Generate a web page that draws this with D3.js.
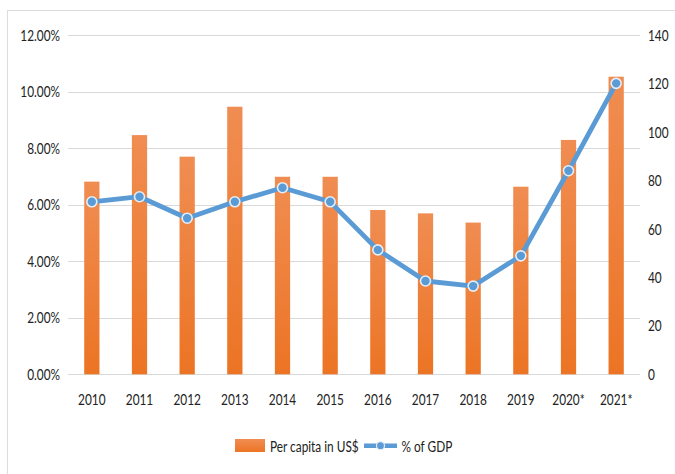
<!DOCTYPE html>
<html>
<head>
<meta charset="utf-8">
<script src="https://cdn.jsdelivr.net/npm/d3@7"></script>
<style>
  html, body { margin: 0; padding: 0; background: #fff; }
  svg { display: block; }
  text { font-family: Lato, "Open Sans", sans-serif; fill: #222; }
</style>
</head>
<body>
<svg id="chart" width="675" height="474"></svg>
<script>
// Years on the category axis
const years = ["2010", "2011", "2012", "2013", "2014", "2015", "2016", "2017", "2018", "2019", "2020*", "2021*"];
// Spending per capita in US$ (bars, right axis)
const perCapita = [79.5, 98.7, 89.8, 110.4, 81.5, 81.5, 67.8, 66.4, 62.6, 77.4, 96.7, 122.8];
// Spending as share of GDP (line, left axis)
const pctGDP = [0.0610, 0.0628, 0.0552, 0.0610, 0.0660, 0.0610, 0.0440, 0.0330, 0.0312, 0.0419, 0.0720, 0.1029];
// Axis ticks
const leftTicks = [0, 0.02, 0.04, 0.06, 0.08, 0.10, 0.12];
const rightTicks = [0, 20, 40, 60, 80, 100, 120, 140];
// Legend entries
const legendBar = "Per capita in US$";
const legendLine = "% of GDP";

const svg = d3.select("#chart");
const SX = 0.74;              // horizontal squeeze of all lettering
const FS = 16;                // font size
const textColor = "#222";
const plotL = 68, plotR = 640, plotT = 35, plotB = 374.3;

const barColorTop = "#f08d52", barColorBottom = "#ec7424";
const lineColor = "#5b9bd5";
const gridColor = "#d9d9d9";

const defs = svg.append("defs");
const grad = defs.append("linearGradient").attr("id", "barGrad")
  .attr("x1", 0).attr("y1", 0).attr("x2", 0).attr("y2", 1);
grad.append("stop").attr("offset", "0%").attr("stop-color", barColorTop);
grad.append("stop").attr("offset", "100%").attr("stop-color", barColorBottom);

// Chart frame
svg.append("rect")
  .attr("x", 7.5).attr("y", 10.5).attr("width", 700).attr("height", 500)
  .attr("fill", "#fff").attr("stroke", "#dcdcdc").attr("stroke-width", 1);

const x = d3.scaleBand().domain(years).range([plotL, plotR])
  .paddingInner(0.68).paddingOuter(0.34);
const yL = d3.scaleLinear().domain([0, 0.12]).range([plotB, plotT]);
const yR = d3.scaleLinear().domain([0, 140]).range([plotB, plotT]);

// Horizontal gridlines
svg.append("g").selectAll("line").data(leftTicks).join("line")
  .attr("x1", plotL).attr("x2", plotR)
  .attr("y1", d => Math.round(yL(d)) + 0.5).attr("y2", d => Math.round(yL(d)) + 0.5)
  .attr("stroke", gridColor).attr("stroke-width", 1.2);

function squeeze(g, gap, anchor) {
  g.select(".domain").remove();
  g.selectAll(".tick line").remove();
  g.selectAll(".tick text")
    .attr("font-size", FS)
    .attr("font-family", "Lato, 'Open Sans', sans-serif")
    .attr("fill", textColor)
    .attr("text-anchor", anchor)
    .attr("x", gap / SX)
    .attr("transform", `scale(${SX},1)`);
}

// Left axis (% of GDP)
svg.append("g").attr("transform", `translate(${plotL},0)`)
  .call(d3.axisLeft(yL).tickValues(leftTicks).tickFormat(d3.format(".2%")).tickSize(0))
  .call(g => squeeze(g, -8, "end"));

// Right axis (US$ per capita)
svg.append("g").attr("transform", `translate(${plotR},0)`)
  .call(d3.axisRight(yR).tickValues(rightTicks).tickFormat(d3.format("d")).tickSize(0))
  .call(g => squeeze(g, 8, "start"));

// Category axis
svg.append("g").attr("transform", `translate(0,${plotB})`)
  .call(d3.axisBottom(x).tickSize(0))
  .call(g => {
    g.select(".domain").remove();
    g.selectAll(".tick text")
      .attr("font-size", FS)
      .attr("font-family", "Lato, 'Open Sans', sans-serif")
      .attr("fill", textColor)
      .attr("y", 30.5).attr("dy", 0)
      .attr("transform", `scale(${SX},1)`);
  });

// Bars
svg.append("g").selectAll("rect").data(years).join("rect")
  .attr("x", d => x(d))
  .attr("width", x.bandwidth())
  .attr("y", (d, i) => yR(perCapita[i]))
  .attr("height", (d, i) => yR(0) - yR(perCapita[i]))
  .attr("fill", "url(#barGrad)");

// Line with markers
const cx = d => x(d) + x.bandwidth() / 2;
svg.append("path")
  .datum(years)
  .attr("fill", "none")
  .attr("stroke", lineColor)
  .attr("stroke-width", 4.8)
  .attr("stroke-linejoin", "round")
  .attr("d", d3.line().x(d => cx(d)).y((d, i) => yL(pctGDP[i])));

svg.append("g").selectAll("circle").data(years).join("circle")
  .attr("cx", d => cx(d))
  .attr("cy", (d, i) => yL(pctGDP[i]))
  .attr("r", 5)
  .attr("fill", lineColor)
  .attr("stroke", "#e4eef8")
  .attr("stroke-width", 1.6);

// Legend
const lg = svg.append("g");
lg.append("rect").attr("x", 235).attr("y", 439).attr("width", 30).attr("height", 13)
  .attr("fill", "url(#barGrad)");
lg.append("text").attr("transform", `translate(270,451.5) scale(${SX},1)`)
  .attr("font-size", FS).attr("fill", textColor).text(legendBar);
lg.append("line").attr("x1", 364).attr("x2", 397).attr("y1", 445.7).attr("y2", 445.7)
  .attr("stroke", lineColor).attr("stroke-width", 4.5);
lg.append("circle").attr("cx", 380.5).attr("cy", 445.7).attr("r", 4)
  .attr("fill", lineColor).attr("stroke", "#e4eef8").attr("stroke-width", 1.2);
lg.append("text").attr("transform", `translate(401.5,451.5) scale(${SX},1)`)
  .attr("font-size", FS).attr("fill", textColor).text(legendLine);
</script>
</body>
</html>
